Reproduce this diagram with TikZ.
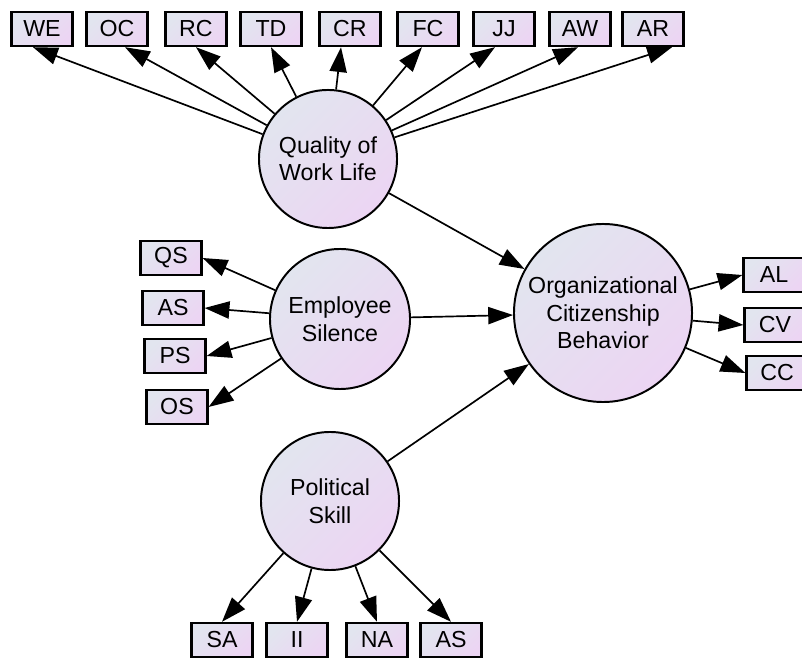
\documentclass[tikz,border=0pt]{standalone}
\usepackage{fontspec}
\setmainfont{Liberation Sans}
\usetikzlibrary{calc,arrows.meta}
\definecolor{amosblue}{RGB}{226,229,239}
\definecolor{amoslilac}{RGB}{236,213,243}
\tikzset{
  obs/.style={draw,line width=1.7pt,top color=amosblue,bottom color=amoslilac,shading angle=45,
              minimum width=1.52cm,minimum height=0.85cm,inner sep=0pt,
              font=\fontsize{16.5}{20}\selectfont},
  lat/.style={circle,draw,line width=1.4pt,top color=amosblue,bottom color=amoslilac,shading angle=45,
              align=center,inner sep=0pt,minimum size=3.45cm,
              font=\fontsize{16.5}{19.5}\selectfont},
  arr/.style={-{Triangle[length=6.2mm,width=4.3mm]},line width=1.2pt}
}
\begin{document}
\begin{tikzpicture}[x=0.025cm,y=-0.025cm]
  \useasboundingbox (0,0) rectangle (802,661);
  % latent variables
  \node[lat] (qwl) at (328,159) {Quality of\\Work Life};
  \node[lat,minimum size=3.5cm] (es) at (340,319) {Employee\\Silence};
  \node[lat] (ps) at (330,501) {Political\\Skill};
  \node[lat,minimum size=4.45cm] (ocb) at (603,313) {Organizational\\Citizenship\\Behavior};
  % indicators
  \node[obs] (we) at (42,29) {WE};
  \node[obs] (oc) at (117,29) {OC};
  \node[obs] (rc) at (196,29) {RC};
  \node[obs] (td) at (271,29) {TD};
  \node[obs] (cr) at (350,29) {CR};
  \node[obs] (fc) at (428,29) {FC};
  \node[obs] (jj) at (504,29) {JJ};
  \node[obs] (aw) at (580,29) {AW};
  \node[obs] (ar) at (653,29) {AR};
  \node[obs] (qs) at (171,258) {QS};
  \node[obs] (as) at (173,308) {AS};
  \node[obs] (pss) at (175,356) {PS};
  \node[obs] (os) at (177,407) {OS};
  \node[obs] (al) at (774,275) {AL};
  \node[obs] (cv) at (775,325) {CV};
  \node[obs] (cc) at (777,373) {CC};
  \node[obs] (sa) at (222,640) {SA};
  \node[obs] (ii) at (297,640) {II};
  \node[obs] (na) at (377,640) {NA};
  \node[obs] (as2) at (451,640) {AS};
  % paths
  \draw[arr] (qwl)--($(we.south)+(-9,0)$); \draw[arr] (qwl)--($(oc.south)+(8,0)$);
  \draw[arr] (qwl)--(rc.south); \draw[arr] (qwl)--(td.south);
  \draw[arr] (qwl)--($(cr.south)+(-9,0)$); \draw[arr] (qwl)--($(fc.south)+(-6,0)$);
  \draw[arr] (qwl)--($(jj.south)+(-9,0)$); \draw[arr] (qwl)--($(aw.south)+(-2,0)$);
  \draw[arr] (qwl)--($(ar.south)+(19,0)$);
  \draw[arr] (es)--(qs.east); \draw[arr] (es)--(as.east);
  \draw[arr] (es)--(pss.east); \draw[arr] (es)--(os.east);
  \draw[arr] (ocb)--(al.west); \draw[arr] (ocb)--(cv.west); \draw[arr] (ocb)--(cc.west);
  \draw[arr] (ps)--(sa.north); \draw[arr] (ps)--(ii.north);
  \draw[arr] (ps)--(na.north); \draw[arr] (ps)--(as2.north);
  \draw[arr] (qwl)--(ocb); \draw[arr] (es)--(ocb); \draw[arr] (ps)--(ocb);
\end{tikzpicture}
\end{document}
